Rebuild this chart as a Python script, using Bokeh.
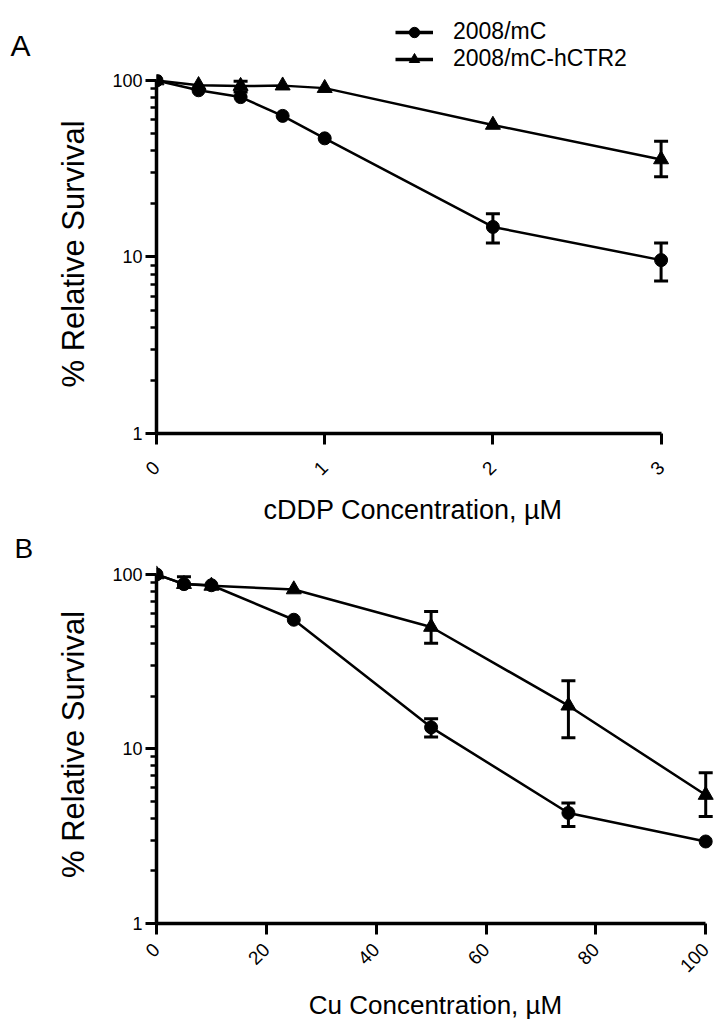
import math
from bokeh.plotting import figure
from bokeh.models import (Range1d, FixedTicker, PrintfTickFormatter, Legend, LegendItem,
                          Whisker, TeeHead, ColumnDataSource, Label)
from bokeh.layouts import column
from bokeh.embed import file_html
from bokeh.resources import INLINE

# ---------------- data ----------------
series_names = ["2008/mC", "2008/mC-hCTR2"]
panel_letters = ["A", "B"]

a_x = [0, 0.25, 0.5, 0.75, 1, 2, 3]
a_mc = [100, 88, 80.5, 63, 47, 14.8, 9.6]
a_mc_lo = [100, 88, 80.5, 63, 47, 12.0, 7.3]
a_mc_hi = [100, 88, 80.5, 63, 47, 17.6, 12.0]
a_ctr = [100, 94, 93, 93.5, 90.5, 56, 35.7]
a_ctr_lo = [100, 94, 86, 93.5, 90.5, 56, 28.5]
a_ctr_hi = [100, 94, 99, 93.5, 90.5, 56, 45.3]

b_x = [0, 5, 10, 25, 50, 75, 100]
b_mc = [100, 88, 86.7, 55, 13.3, 4.3, 2.95]
b_mc_lo = [100, 88, 86.7, 55, 11.7, 3.6, 2.95]
b_mc_hi = [100, 88, 86.7, 55, 14.9, 4.9, 2.95]
b_ctr = [100, 88, 86, 82, 50, 17.7, 5.45]
b_ctr_lo = [100, 88, 86, 82, 40.3, 11.6, 4.1]
b_ctr_hi = [100, 97, 86, 82, 61.3, 24.6, 7.3]

a_xticks = [0, 1, 2, 3]
b_xticks = [0, 20, 40, 60, 80, 100]
y_ticks = [1, 10, 100]
y_minor = [2, 3, 4, 5, 6, 7, 8, 9, 20, 30, 40, 50, 60, 70, 80, 90]

a_xlabel = "cDDP Concentration, \u00b5M"
b_xlabel = "Cu Concentration, \u00b5M"
y_label = "% Relative Survival"

FONT = "Liberation Sans"
MARKERS = ["circle", "triangle"]
SIZES = [13, 15]


def blank_fig(w, h):
    p = figure(frame_width=w, frame_height=h, min_border_left=0, min_border_right=0,
               min_border_top=0, min_border_bottom=0, title=None,
               x_range=Range1d(0, 1), y_range=Range1d(0, 1),
               x_axis_location=None, y_axis_location=None,
               output_backend="svg", toolbar_location=None, frame_align=False)
    p.xgrid.visible = False
    p.ygrid.visible = False
    p.outline_line_color = None
    p.background_fill_color = "white"
    p.border_fill_color = "white"
    return p


def style_axes(p, xticks, xbounds, title_size, x_standoff, title_standoff):
    p.xgrid.visible = False
    p.ygrid.visible = False
    p.outline_line_color = None
    p.background_fill_color = "white"
    p.border_fill_color = "white"

    p.yaxis.ticker = FixedTicker(ticks=y_ticks, minor_ticks=y_minor)
    p.yaxis.formatter = PrintfTickFormatter(format="%d")
    p.yaxis.bounds = (1, 100)
    p.xaxis.ticker = FixedTicker(ticks=xticks, minor_ticks=[])
    p.xaxis.bounds = xbounds
    p.xaxis.major_label_orientation = math.pi / 4

    for ax in (p.xaxis[0], p.yaxis[0]):
        ax.axis_line_width = 3.5
        ax.axis_line_color = "black"
        ax.major_tick_line_width = 3
        ax.major_tick_line_color = "black"
        ax.major_tick_out = 11
        ax.major_tick_in = 0
        ax.minor_tick_line_width = 2.5
        ax.minor_tick_line_color = "black"
        ax.minor_tick_out = 6
        ax.minor_tick_in = 0
        ax.major_label_text_font = FONT
        ax.major_label_text_font_size = "18px"
        ax.major_label_text_color = "black"
        ax.axis_label_text_font = FONT
        ax.axis_label_text_font_style = "normal"
        ax.axis_label_text_color = "black"
    p.xaxis.major_label_text_font_size = "19px"
    p.yaxis.major_label_standoff = 3
    p.xaxis.major_label_standoff = x_standoff
    p.yaxis.axis_label_text_font_size = "31px"
    p.xaxis.axis_label_text_font_size = title_size
    p.yaxis.axis_label_standoff = 18
    p.xaxis.axis_label_standoff = title_standoff


def add_series(p, xs, ys, lo, hi, marker, size):
    p.line(xs, ys, line_color="black", line_width=2.5)
    p.scatter(xs, ys, marker=marker, size=size, fill_color="black", line_color="black")
    keep = [i for i in range(len(xs)) if hi[i] != lo[i]]
    src = ColumnDataSource(dict(x=[xs[i] for i in keep],
                                lo=[lo[i] for i in keep],
                                hi=[hi[i] for i in keep]))
    w = Whisker(source=src, base="x", lower="lo", upper="hi", dimension="height",
                line_color="black", line_width=3,
                upper_head=TeeHead(size=14, line_width=3, line_color="black"),
                lower_head=TeeHead(size=14, line_width=3, line_color="black"))
    p.add_layout(w)


# ---------------- header A (panel letter + legend) ----------------
# legend glyph renderers reuse the panel-A series; they fall outside this header's
# ranges, so only their legend swatches are visible
hA = blank_fig(714, 70)
items = []
for name, ys, mk, sz in zip(series_names, [a_mc, a_ctr], MARKERS, SIZES):
    lr = hA.line(a_x, ys, line_color="black", line_width=3.5)
    sr = hA.scatter(a_x, ys, marker=mk, size=sz, fill_color="black", line_color="black")
    items.append(LegendItem(label=name, renderers=[lr, sr]))
legend = Legend(items=items, location=(395, -2), orientation="vertical",
                glyph_width=38, glyph_height=26, label_height=26, spacing=0,
                padding=0, margin=0, label_standoff=20,
                label_text_font=FONT, label_text_font_size="23px", label_text_color="black",
                border_line_color=None, background_fill_alpha=0)
hA.add_layout(legend)
hA.add_layout(Label(x=10, y=25, x_units="screen", y_units="screen", text=panel_letters[0],
                    text_font=FONT, text_font_size="30px", text_color="black",
                    text_baseline="alphabetic"))

# ---------------- panel A ----------------
pA = figure(frame_width=513, frame_height=359, title=None,
            min_border_left=156, min_border_right=45, min_border_top=4, min_border_bottom=97,
            x_range=Range1d(0, 3.05), y_range=Range1d(1, 108.1), y_axis_type="log",
            output_backend="svg", toolbar_location=None, frame_align=False,
            x_axis_label=a_xlabel, y_axis_label=y_label)
style_axes(pA, a_xticks, (0, 3), "27px", 20, 11)
add_series(pA, a_x, a_mc, a_mc_lo, a_mc_hi, MARKERS[0], SIZES[0])
add_series(pA, a_x, a_ctr, a_ctr_lo, a_ctr_hi, MARKERS[1], SIZES[1])

# ---------------- header B ----------------
hB = blank_fig(714, 35)
hB.add_layout(Label(x=14, y=17, x_units="screen", y_units="screen", text=panel_letters[1],
                    text_font=FONT, text_font_size="28px", text_color="black",
                    text_baseline="alphabetic"))

# ---------------- panel B ----------------
pB = figure(frame_width=558, frame_height=358, title=None,
            min_border_left=156, min_border_right=0, min_border_top=0, min_border_bottom=98,
            x_range=Range1d(0, 101.6), y_range=Range1d(1, 112.5), y_axis_type="log",
            output_backend="svg", toolbar_location=None, frame_align=False,
            x_axis_label=b_xlabel, y_axis_label=y_label)
style_axes(pB, b_xticks, (0, 100), "26px", 12, 9)
add_series(pB, b_x, b_mc, b_mc_lo, b_mc_hi, MARKERS[0], SIZES[0])
add_series(pB, b_x, b_ctr, b_ctr_lo, b_ctr_hi, MARKERS[1], SIZES[1])

layout = column(hA, pA, hB, pB, spacing=0)
open("out.html", "w").write(file_html(layout, INLINE))
